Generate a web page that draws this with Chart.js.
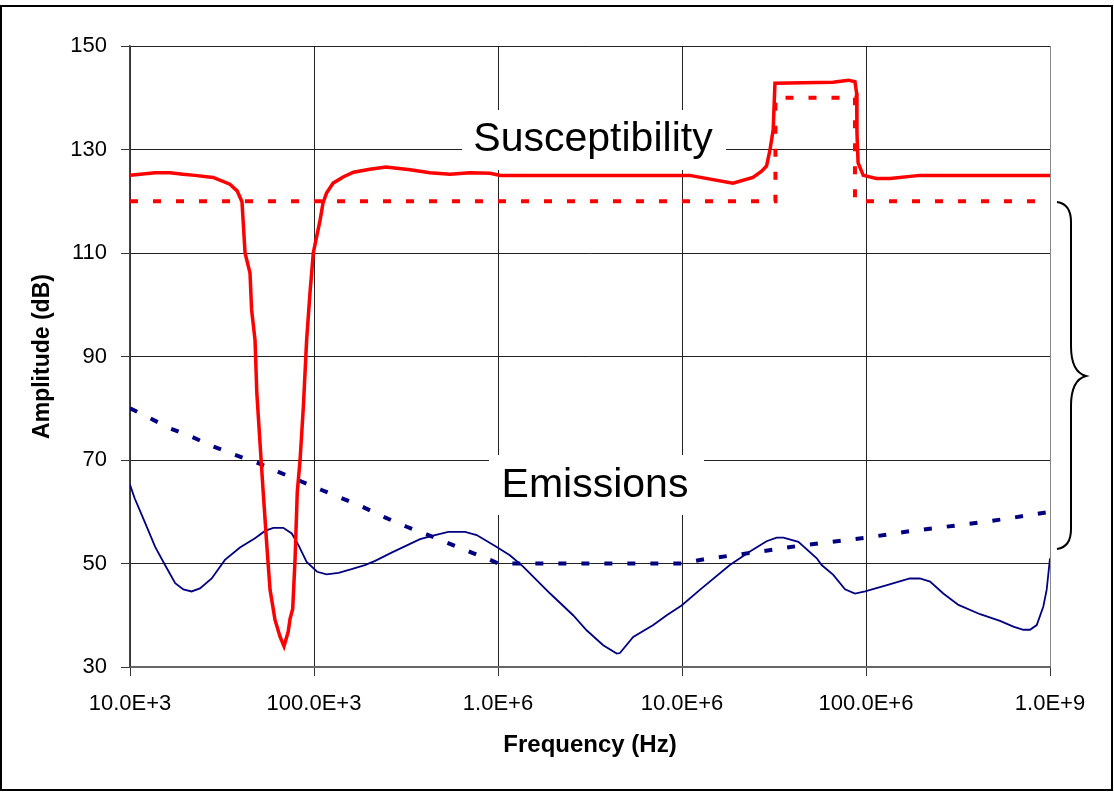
<!DOCTYPE html>
<html><head><meta charset="utf-8">
<script src="https://cdn.jsdelivr.net/npm/chart.js@4.4.1/dist/chart.umd.min.js"></script>
<style>html,body{margin:0;padding:0;background:#fff;overflow:hidden}canvas{display:block}</style>
</head><body>
<canvas id="c" width="1114" height="793"></canvas>
<script>
// Susceptibility (measured)
const suscFreq = [1.00e4,1.37e4,1.65e4,1.94e4,2.25e4,2.83e4,3.49e4,3.82e4,4.06e4,4.22e4,4.49e4,4.58e4,4.78e4,4.89e4,5.09e4,5.30e4,5.53e4,5.77e4,6.14e4,6.53e4,6.87e4,7.24e4,7.41e4,7.66e4,7.89e4,8.11e4,8.40e4,8.75e4,9.12e4,9.51e4,9.91e4,1.08e5,1.12e5,1.17e5,1.27e5,1.44e5,1.64e5,2.01e5,2.46e5,3.33e5,4.27e5,5.48e5,7.05e5,9.06e5,1.03e6,1.10e7,1.89e7,2.43e7,2.71e7,2.88e7,3.01e7,3.13e7,3.20e7,6.62e7,8.02e7,8.71e7,8.89e7,8.93e7,9.06e7,9.66e7,1.14e8,1.35e8,1.96e8,1.00e9];
const suscDb   = [125.0,125.5,125.5,125.2,125.0,124.6,123.3,122.0,119.9,110.0,106.1,99.0,93.2,82.9,73.2,63.6,53.9,44.9,39.1,35.9,34.0,36.8,39.3,41.2,50.9,63.8,70.0,80.2,93.2,102.3,110.0,116.4,119.7,121.6,123.5,124.7,125.6,126.2,126.6,126.1,125.5,125.2,125.5,125.4,125.0,125.0,123.5,124.6,125.8,126.8,130.0,133.8,142.8,143.0,143.4,143.1,140.9,133.2,127.4,125.0,124.4,124.4,125.0,125.0];
// Susceptibility limit
const suscLimitFreq = [1.00e4,3.22e7,3.22e7,8.71e7,8.71e7,1.00e9];
const suscLimitDb   = [120,120,140,140,120,120];
// Emissions (measured)
const emisFreq = [1.00e4,1.06e4,1.21e4,1.37e4,1.55e4,1.76e4,1.95e4,2.16e4,2.40e4,2.78e4,3.28e4,3.96e4,4.78e4,5.42e4,6.01e4,6.81e4,7.57e4,8.22e4,9.12e4,1.04e5,1.17e5,1.36e5,1.60e5,1.89e5,2.15e5,2.64e5,3.77e5,4.55e5,5.37e5,6.62e5,7.66e5,9.84e5,1.16e6,1.37e6,1.92e6,2.56e6,3.03e6,3.73e6,4.42e6,4.60e6,5.43e6,6.98e6,8.26e6,9.95e6,1.25e7,1.82e7,2.34e7,2.88e7,3.27e7,3.56e7,4.29e7,5.40e7,5.74e7,6.64e7,7.69e7,8.71e7,9.89e7,1.30e8,1.73e8,1.96e8,2.23e8,2.63e8,3.18e8,4.17e8,5.35e8,6.32e8,7.16e8,7.78e8,8.47e8,9.20e8,9.59e8,1.00e9];
const emisDb   = [65.2,62.6,57.8,53.2,49.7,46.2,45.0,44.6,45.2,47.1,50.7,53.1,54.9,56.3,56.9,56.9,55.8,53.6,50.3,48.4,47.9,48.2,48.9,49.7,50.5,52.1,54.7,55.5,56.1,56.1,55.5,53.2,51.6,49.4,44.2,40.0,37.1,34.2,32.6,32.7,35.8,38.1,40.0,41.9,44.9,49.7,52.3,54.3,55.0,55.0,54.2,51.0,49.7,47.8,45.0,44.2,44.6,45.8,47.1,47.1,46.5,44.2,42.0,40.2,38.9,37.8,37.2,37.2,38.1,41.7,44.9,51.0];
// Emissions limit
const emisLimitFreq = [1.00e4,1.28e4,1.65e4,2.16e4,2.84e4,3.72e4,4.98e4,6.40e4,8.22e4,1.10e5,1.42e5,1.85e5,2.43e5,3.19e5,4.18e5,5.48e5,7.19e5,9.64e5,1.00e6,1.00e7,1.36e7,2.42e7,4.29e7,7.69e7,1.01e8,1.77e8,3.18e8,5.69e8,1.00e9];
const emisLimitDb   = [80.0,78.1,76.1,74.5,72.6,71.0,69.4,67.7,66.1,64.2,62.6,60.9,58.9,57.1,55.5,53.8,52.1,50.3,50.0,50.0,50.9,52.1,53.4,54.5,55.0,56.3,57.4,58.6,60.0];
// Axes
const xTickValues = [1e4,1e5,1e6,1e7,1e8,1e9];
const xTickLabels = ['10.0E+3','100.0E+3','1.0E+6','10.0E+6','100.0E+6','1.0E+9'];
const yTickValues = [30,50,70,90,110,130,150];
const xTitle = 'Frequency (Hz)';
const yTitle = 'Amplitude (dB)';
const labelTexts = ['Susceptibility','Emissions'];

const pts = (xs, ys) => xs.map((v, i) => ({x: v, y: ys[i]}));
const FONT = '"Liberation Sans", Arial, sans-serif';

const decor = {
  id: 'decor',
  beforeDraw(chart) {
    const ctx = chart.ctx;
    ctx.save();
    ctx.fillStyle = '#fff';
    ctx.fillRect(0, 0, chart.width, chart.height);
    ctx.restore();
  },
  beforeDatasetsDraw(chart) {
    const ctx = chart.ctx;
    ctx.save();
    ctx.font = '41px ' + FONT;
    ctx.textAlign = 'center';
    ctx.textBaseline = 'alphabetic';
    const boxes = [
      {t: labelTexts[0], x0: 462, x1: 726, y0: 110, y1: 170, cx: 593, by: 151},
      {t: labelTexts[1], x0: 489, x1: 704, y0: 455, y1: 515, cx: 595, by: 497}
    ];
    boxes.forEach(b => {
      ctx.fillStyle = '#fff';
      ctx.fillRect(b.x0, b.y0, b.x1 - b.x0, b.y1 - b.y0);
      ctx.fillStyle = '#000';
      ctx.fillText(b.t, b.cx, b.by);
    });
    ctx.restore();
  },
  afterDraw(chart) {
    const ctx = chart.ctx;
    ctx.save();
    // brace
    ctx.strokeStyle = '#000';
    ctx.lineWidth = 2;
    ctx.beginPath();
    ctx.moveTo(1057, 202);
    ctx.quadraticCurveTo(1071, 204, 1071, 222);
    ctx.lineTo(1071, 346);
    ctx.quadraticCurveTo(1071, 372, 1086, 376);
    ctx.quadraticCurveTo(1071, 380, 1071, 406);
    ctx.lineTo(1071, 529);
    ctx.quadraticCurveTo(1071, 547, 1057, 549);
    ctx.stroke();
    // outer border
    ctx.lineWidth = 2;
    ctx.strokeRect(1, 6, 1111, 784);
    ctx.restore();
  }
};

new Chart(document.getElementById('c'), {
  type: 'line',
  data: {
    datasets: [
      {data: pts(suscFreq, suscDb), borderColor: '#ff0000', borderWidth: 3.5, order: 0},
      {data: pts(suscLimitFreq, suscLimitDb), borderColor: '#ff0000', borderWidth: 4, borderDash: [8, 15], order: 1},
      {data: pts(emisLimitFreq, emisLimitDb), borderColor: '#000080', borderWidth: 4, borderDash: [8, 15], order: 2},
      {data: pts(emisFreq, emisDb), borderColor: '#000080', borderWidth: 1.8, order: 3}
    ]
  },
  options: {
    responsive: false,
    animation: false,
    events: [],
    layout: {padding: {left: 0, right: 64, top: 46, bottom: 0}},
    elements: {point: {radius: 0}, line: {tension: 0, fill: false, borderCapStyle: 'butt'}},
    plugins: {legend: {display: false}, tooltip: {enabled: false}},
    scales: {
      x: {
        type: 'logarithmic',
        min: 1e4, max: 1e9,
        afterBuildTicks: s => { s.ticks = xTickValues.map(v => ({value: v})); },
        afterFit: s => { s.height = 126; },
        ticks: {
          autoSkip: false, maxRotation: 0, minRotation: 0,
          padding: 15, color: '#000',
          font: {family: FONT, size: 22},
          callback: (v, i) => xTickLabels[i]
        },
        grid: {color: (c) => c.index === 5 ? '#888' : '#222', lineWidth: 1, tickLength: 9, tickColor: '#333'},
        border: {color: '#666', width: 2},
        title: {display: true, text: xTitle, color: '#000', font: {family: FONT, size: 24, weight: 'bold'}, padding: {top: 0, bottom: 33}}
      },
      y: {
        type: 'linear',
        min: 30, max: 150,
        afterBuildTicks: s => { s.ticks = yTickValues.map(v => ({value: v})); },
        afterFit: s => { s.width = 130; },
        ticks: {padding: 14, color: '#000', font: {family: FONT, size: 22}},
        grid: {color: '#222', lineWidth: 1, tickLength: 9, tickColor: '#333'},
        border: {color: '#444', width: 1.5},
        title: {display: true, text: yTitle, color: '#000', font: {family: FONT, size: 23, weight: 'bold'}, padding: {top: 29, bottom: 0}}
      }
    }
  },
  plugins: [decor]
});
</script>
</body></html>
